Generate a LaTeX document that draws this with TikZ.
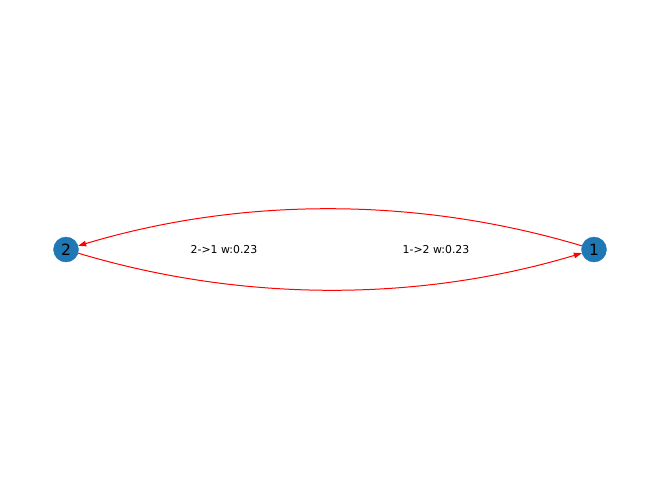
\documentclass[tikz,border=0pt]{standalone}
\usepackage{fontspec}
\setmainfont{DejaVu Sans}
\usetikzlibrary{arrows.meta}
\definecolor{nodeblue}{HTML}{1F77B4}
\tikzset{
  vertex/.style={circle, fill=nodeblue, draw=nodeblue, minimum size=25pt, inner sep=0pt, font=\fontsize{15.5}{18}\selectfont},
  edge/.style={draw=red, line width=1pt, -{Triangle[length=8pt,width=5.5pt]}},
  elabel/.style={font=\fontsize{10.9}{13}\selectfont, inner sep=0pt}
}
\begin{document}
\begin{tikzpicture}[x=1pt,y=-1pt]
\useasboundingbox (0,0) rectangle (660,499);
\node[vertex] (n2) at (66,249.5) {2};
\node[vertex] (n1) at (594,249.5) {1};
\coordinate (ct1) at (418,196.7);
\coordinate (ct2) at (242,196.7);
\coordinate (cb1) at (242,302.3);
\coordinate (cb2) at (418,302.3);
\draw[edge] (n1) .. controls (ct1) and (ct2) .. (n2);
\draw[edge] (n2) .. controls (cb1) and (cb2) .. (n1);
\node[elabel] (l21) at (224,249.5) {2->1 w:0.23};
\node[elabel] (l12) at (436,249.5) {1->2 w:0.23};
\end{tikzpicture}
\end{document}
